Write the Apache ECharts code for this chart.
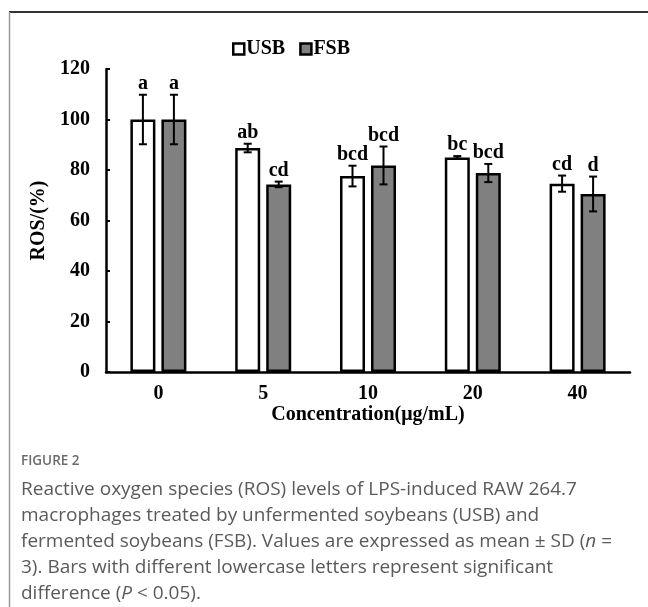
<!DOCTYPE html>
<html>
<head>
<meta charset="utf-8">
<script src="https://cdn.jsdelivr.net/npm/echarts@6/dist/echarts.min.js"></script>
<style>
html,body{margin:0;padding:0;background:#fff;}
#chart{width:648px;height:607px;}
</style>
</head>
<body>
<div id="chart"></div>
<script>
var categories = ['0', '5', '10', '20', '40'];
var usbMean = [100, 88.7, 77.6, 85.0, 74.6];
var usbSD = [9.8, 1.7, 4.1, 0.5, 3.2];
var fsbMean = [100, 74.3, 81.8, 78.8, 70.5];
var fsbSD = [9.8, 1.1, 7.5, 3.6, 6.9];
var usbLetters = ['a', 'ab', 'bcd', 'bc', 'cd'];
var fsbLetters = ['a', 'cd', 'bcd', 'bcd', 'd'];
var yTicks = [0, 20, 40, 60, 80, 100, 120];
var captionTitle = 'FIGURE 2';
var captionLines = [
  'Reactive oxygen species (ROS) levels of LPS-induced RAW 264.7',
  'macrophages treated by unfermented soybeans (USB) and',
  'fermented soybeans (FSB). Values are expressed as mean \u00b1 SD ({i|n} =',
  '3). Bars with different lowercase letters represent significant',
  'difference ({i|P} < 0.05).'
];

var SERIF = '"Liberation Serif", "Times New Roman", serif';
var FS = 20;
var BAR_W = 25;
var GAP = 0.24;

function errSeries(name, mean, sd, letters, side) {
  return {
    type: 'custom',
    name: name + ' SD',
    z: 10,
    encode: { x: 0, y: 1 },
    data: mean.map(function (m, i) { return [i, m, sd[i]]; }),
    renderItem: function (params, api) {
      var idx = api.value(0), m = api.value(1), s = api.value(2);
      var off = side * (BAR_W * (1 + GAP)) / 2;
      var x = api.coord([idx, m])[0] + off;
      var yt = api.coord([idx, m + s])[1];
      var yb = api.coord([idx, m - s])[1];
      var cap = 4;
      var ls = { stroke: '#000', lineWidth: 2 };
      return {
        type: 'group',
        children: [
          { type: 'line', shape: { x1: x, y1: yt, x2: x, y2: yb }, style: ls },
          { type: 'line', shape: { x1: x - cap, y1: yt, x2: x + cap, y2: yt }, style: ls },
          { type: 'line', shape: { x1: x - cap, y1: yb, x2: x + cap, y2: yb }, style: ls },
          { type: 'text', x: x, y: yt - 1,
            style: { text: letters[params.dataIndex], fill: '#000',
              font: 'bold ' + FS + 'px ' + SERIF, align: 'center', verticalAlign: 'bottom',
              textAlign: 'center', textVerticalAlign: 'bottom' } }
        ]
      };
    }
  };
}

var CAP_SIZE = 19;
var CAP_FONT = CAP_SIZE + 'px "Open Sans", sans-serif';
var graphics = [
  { type: 'line', shape: { x1: 9, y1: 12, x2: 648, y2: 12 }, style: { stroke: '#333', lineWidth: 2 } },
  { type: 'line', shape: { x1: 9.5, y1: 12, x2: 9.5, y2: 607 }, style: { stroke: '#9a9a9a', lineWidth: 1.5 } },
  { type: 'text', left: 21, top: 454,
    style: { text: captionTitle, fill: '#6b6b6b', font: '600 13.5px "Open Sans", sans-serif' } }
];
captionLines.forEach(function (t, i) {
  graphics.push({
    type: 'text', left: 21, top: 480 + i * 26,
    style: { text: t, fill: '#5a5a5a', font: CAP_FONT,
      rich: { i: { fontStyle: 'italic', fontSize: CAP_SIZE, fontFamily: '"Open Sans", sans-serif', fill: '#5a5a5a' } } }
  });
});

var chart = echarts.init(document.getElementById('chart'), null, { renderer: 'canvas' });
chart.setOption({
  animation: false,
  backgroundColor: '#fff',
  legend: {
    data: ['USB', 'FSB'],
    left: 227, top: 34,
    itemWidth: 11, itemHeight: 11, itemGap: 14,
    icon: 'rect',
    textStyle: { fontFamily: SERIF, fontWeight: 'bold', fontSize: FS, color: '#000', padding: [0, 0, 0, -3] },
    itemStyle: { borderColor: '#000', borderWidth: 2.5 }
  },
  grid: { left: 106, right: 18, top: 69, bottom: 235, containLabel: false },
  xAxis: {
    type: 'category', data: categories,
    name: 'Concentration(\u03bcg/mL)', nameLocation: 'middle', nameGap: 31,
    nameTextStyle: { fontFamily: SERIF, fontWeight: 'bold', fontSize: FS, color: '#000' },
    axisLine: { lineStyle: { color: '#000', width: 2.5 } },
    axisTick: { show: false },
    axisLabel: { fontFamily: SERIF, fontWeight: 'bold', fontSize: FS, color: '#000', margin: 12 }
  },
  yAxis: {
    type: 'value', min: yTicks[0], max: yTicks[yTicks.length - 1], interval: yTicks[1] - yTicks[0],
    name: 'ROS/(%)', nameLocation: 'middle', nameGap: 54, nameRotate: 90,
    nameTextStyle: { fontFamily: SERIF, fontWeight: 'bold', fontSize: FS, color: '#000' },
    axisLine: { show: true, lineStyle: { color: '#000', width: 2.5 } },
    axisTick: { show: true, inside: true, length: 4, lineStyle: { color: '#000', width: 2 } },
    splitLine: { show: false },
    axisLabel: { fontFamily: SERIF, fontWeight: 'bold', fontSize: FS, color: '#000', margin: 16 }
  },
  series: [
    { type: 'bar', name: 'USB', data: usbMean, barWidth: BAR_W, barGap: (GAP * 100) + '%',
      itemStyle: { color: '#ffffff', borderColor: '#000', borderWidth: 2.5 } },
    { type: 'bar', name: 'FSB', data: fsbMean, barWidth: BAR_W, barGap: (GAP * 100) + '%',
      itemStyle: { color: '#808080', borderColor: '#000', borderWidth: 2.5 } },
    errSeries('USB', usbMean, usbSD, usbLetters, -1),
    errSeries('FSB', fsbMean, fsbSD, fsbLetters, 1)
  ],
  graphic: graphics
});
</script>
</body>
</html>
